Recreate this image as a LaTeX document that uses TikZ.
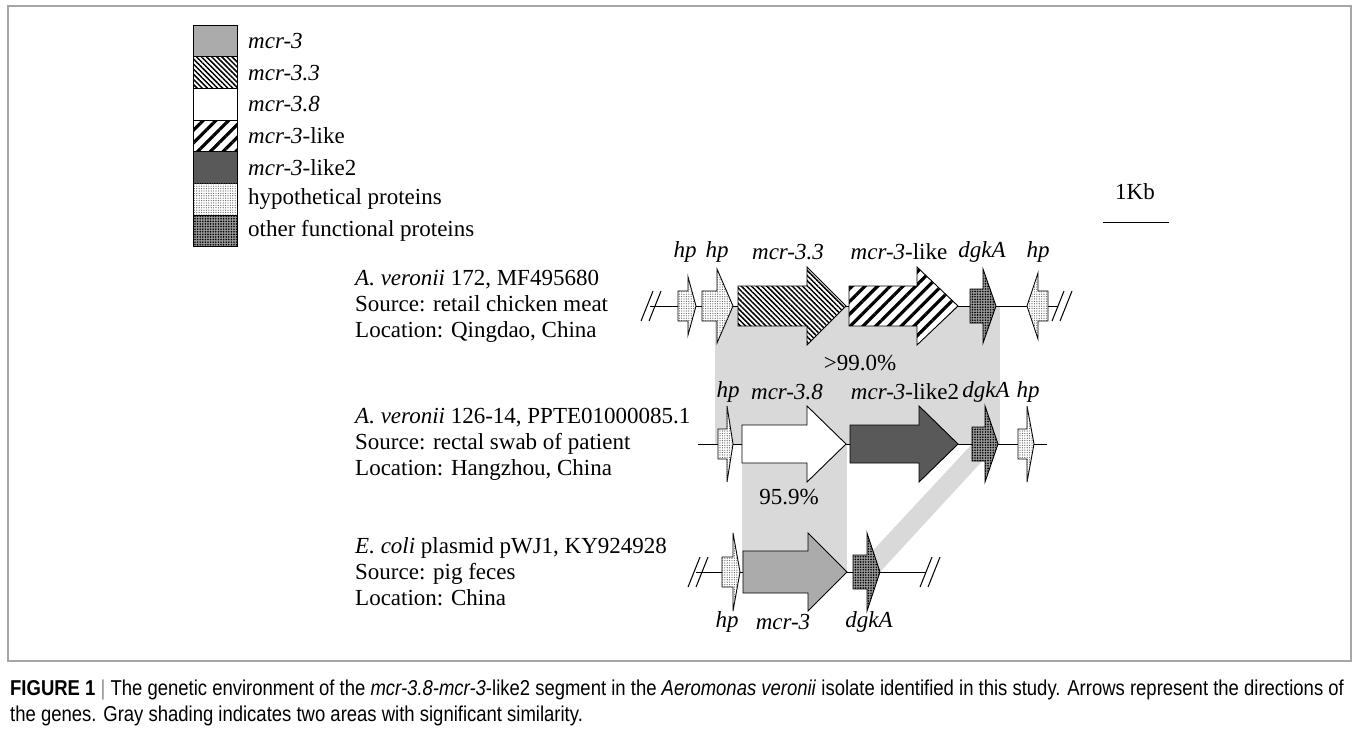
\documentclass[tikz,border=0pt]{standalone}
\usepackage{fontspec}
\setmainfont{Liberation Serif}
\newfontfamily\capfont[FakeStretch=0.86]{Liberation Sans}
\usetikzlibrary{positioning, patterns.meta}
\newcommand{\figfont}{\fontsize{23}{26}\selectfont}
\tikzset{
    gene/.style={draw=black, line width=0.9pt, line join=miter},
    gene mcr3/.style={gene, fill=black!33},
    gene mcr33/.style={gene, fill=white, postaction={pattern={Lines[angle=-45, distance=3.6pt, line width=1.5pt]}}},
    gene mcr38/.style={gene, fill=white},
    gene like/.style={gene, fill=white, postaction={pattern={Lines[angle=45, distance=9pt, line width=3.2pt]}}},
    gene like2/.style={gene, fill=black!65},
    gene hp/.style={gene, fill=white, postaction={pattern={Dots[distance=2.4pt, radius=0.6pt]}, pattern color=black!65}},
    gene other/.style={gene, fill=black!40, postaction={pattern={Dots[distance=2.6pt, radius=0.9pt]}, pattern color=black}},
    legend box/.style={rectangle, inner sep=0pt, outer sep=0pt, minimum width=44pt, minimum height=31.7pt},
    legend text/.style={anchor=west, inner sep=0pt},
    gene label/.style={font=\figfont\itshape, inner sep=0pt},
    info/.style={anchor=west, align=left, inner sep=0pt},
    backbone/.style={line width=1pt},
    similar/.style={fill=black!15, draw=none},
}
% gene arrow: style, start, head base, tip, y, body half, head half
\newcommand{\genearrow}[7]{%
  \draw[#1] (#2,#5-#6) -- (#3,#5-#6) -- (#3,#5-#7) -- (#4,#5) -- (#3,#5+#7) -- (#3,#5+#6) -- (#2,#5+#6) -- cycle;}
\newcommand{\cutmark}[2]{%
  \draw[backbone] (#1-6,#2+15) -- (#1+6,#2-15);}

\begin{document}
\begin{tikzpicture}[x=1pt, y=-1pt, font=\figfont]
\useasboundingbox (0,0) rectangle (1359,731);
\draw[draw=black!35, line width=2pt] (8,6) rectangle (1351,661);

% legend
\node[legend box, gene mcr3, anchor=north west] (leg1) at (193,25) {};
\node[legend box, gene mcr33, below=0pt of leg1] (leg2) {};
\node[legend box, gene mcr38, below=0pt of leg2] (leg3) {};
\node[legend box, gene like, below=0pt of leg3] (leg4) {};
\node[legend box, gene like2, below=0pt of leg4] (leg5) {};
\node[legend box, gene hp, below=0pt of leg5] (leg6) {};
\node[legend box, gene other, below=0pt of leg6] (leg7) {};
\node[legend text, right=11pt of leg1] (lt1) {\textit{mcr-3}};
\node[legend text, right=11pt of leg2] (lt2) {\textit{mcr-3.3}};
\node[legend text, right=11pt of leg3] (lt3) {\textit{mcr-3.8}};
\node[legend text, right=11pt of leg4] (lt4) {\textit{mcr-3}-like};
\node[legend text, right=11pt of leg5] (lt5) {\textit{mcr-3}-like2};
\node[legend text, right=11pt of leg6] (lt6) {hypothetical proteins};
\node[legend text, right=11pt of leg7] (lt7) {other functional proteins};

% scale
\node (kb) at (1135,192) {1Kb};
\draw[backbone] (1103,222) -- (1169,222);

% similarity shading
\fill[similar] (715,306) rectangle (1000,444);
\fill[similar] (742,444) rectangle (847,572);
\fill[similar] (972,444) -- (998,444) -- (880,572) -- (853,572) -- cycle;
\node (sim1) at (860,363) {{>}99.0\%};
\node (sim2) at (789,497) {95.9\%};

% isolate 1
\node[info] (iso1) at (355,306) {\textit{A. veronii} 172, MF495680\\Source: retail chicken meat\\Location: Qingdao, China};
\draw[backbone] (650,306) -- (1058,306);
\cutmark{647}{306} \cutmark{655}{306}
\cutmark{1058}{306} \cutmark{1066}{306}
\genearrow{gene hp}{678}{688}{696}{306}{15}{29}
\genearrow{gene hp}{702}{717}{733}{306}{15}{37}
\genearrow{gene mcr33}{738}{807}{846}{306}{20}{39}
\genearrow{gene like}{849}{917}{958}{306}{20}{39}
\genearrow{gene other}{970}{983}{996}{306}{17}{37}
\genearrow{gene hp}{1048}{1038}{1027}{306}{15}{33}
\node[gene label] (a1) at (685,252) {hp};
\node[gene label] (a2) at (717,252) {hp};
\node[gene label] (a3) at (788,252) {mcr-3.3};
\node[gene label] (a4) at (899,252) {mcr-3\textup{-like}};
\node[gene label] (a5) at (982,252) {dgkA};
\node[gene label] (a6) at (1038,252) {hp};

% isolate 2
\node[info] (iso2) at (355,444) {\textit{A. veronii} 126-14, PPTE01000085.1\\Source: rectal swab of patient\\Location: Hangzhou, China};
\draw[backbone] (698,444) -- (1047,444);
\genearrow{gene hp}{718}{727}{733}{444}{15}{38}
\genearrow{gene mcr38}{742}{807}{846}{444}{19}{38}
\genearrow{gene like2}{850}{919}{958}{444}{19}{38}
\genearrow{gene other}{972}{985}{998}{444}{17}{38}
\genearrow{gene hp}{1018}{1027}{1034}{444}{15}{38}
\node[gene label] (b1) at (728,392) {hp};
\node[gene label] (b2) at (787,392) {mcr-3.8};
\node[gene label] (b3) at (905,392) {mcr-3\textup{-like2}};
\node[gene label] (b4) at (986,392) {dgkA};
\node[gene label] (b5) at (1028,392) {hp};

% isolate 3
\node[info] (iso3) at (355,572) {\textit{E. coli} plasmid pWJ1, KY924928\\Source: pig feces\\Location: China};
\draw[backbone] (696,572) -- (926,572);
\cutmark{694}{572} \cutmark{702}{572}
\cutmark{926}{572} \cutmark{934}{572}
\genearrow{gene hp}{722}{733}{740}{572}{15}{39}
\genearrow{gene mcr3}{743}{808}{847}{572}{21}{39}
\genearrow{gene other}{853}{867}{880}{572}{17}{39}
\node[gene label] (c1) at (727,622) {hp};
\node[gene label] (c2) at (783,622) {mcr-3};
\node[gene label] (c3) at (869,622) {dgkA};

% caption
\node[anchor=west, align=left, inner sep=0pt, font=\capfont\fontsize{21.5}{26}\selectfont] (cap) at (10,703) {\textbf{FIGURE 1} {\color{black!45}|} The genetic environment of the \textit{mcr-3.8-mcr-3}-like2 segment in the \textit{Aeromonas veronii} isolate identified in this study. Arrows represent the directions of\\the genes. Gray shading indicates two areas with significant similarity.};
\end{tikzpicture}
\end{document}
